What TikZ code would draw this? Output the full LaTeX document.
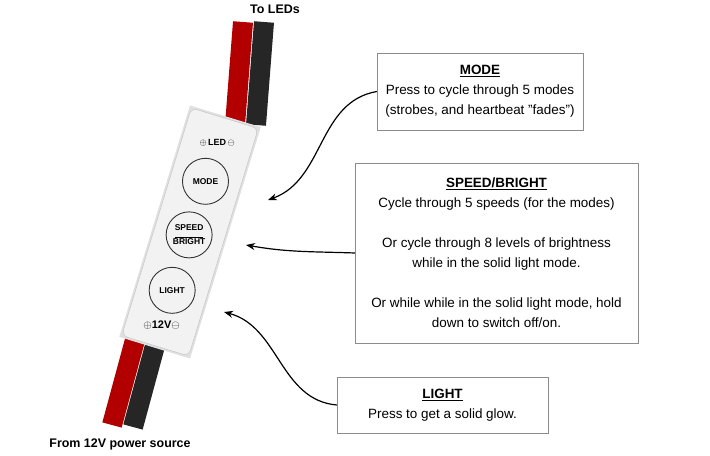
\documentclass[tikz,border=0pt]{standalone}
\usepackage{fontspec}
\setmainfont{Liberation Sans}
\usetikzlibrary{arrows.meta}
\tikzset{
  infobox/.style={draw=black!45, fill=white, align=center, font=\fontsize{13.5}{20}\selectfont, inner sep=4pt},
  pointer/.style={-{Stealth[length=9pt,width=7pt]}, line width=1.2pt},
  button/.style={circle, draw=black!80, line width=0.9pt, minimum size=46bp, font=\bfseries\fontsize{8.5}{9}\selectfont, align=center, inner sep=0pt},
  cable/.style={line width=20bp}
}
\begin{document}
\begin{tikzpicture}[x=1bp,y=-1bp]
\useasboundingbox (0,0) rectangle (710,456);

% cables
\draw[cable, red!70!black] (243,22) -- (235,125);
\draw[cable, black!85] (264,22) -- (256,125);
\draw[cable, red!70!black] (135,340) -- (112,425);
\draw[cable, black!85] (156,342) -- (133,427);

% controller
\begin{scope}[shift={(190,232)}, rotate=-17]
\fill[black!12] (-37,-121) rectangle (37,121);
\draw[black!25, fill=black!5, rounded corners=6bp] (-35,-119) rectangle (35,119);
\node[font=\bfseries\fontsize{9}{10}\selectfont] (led) at (0,-93) {$\oplus$\,LED\,$\ominus$};
\node[button] (mode) at (0,-53) {MODE};
\node[button] (speed) at (0,3) {SPEED\\[-2pt]\rule{28bp}{0.7pt}\\[-2pt]BRIGHT};
\node[button] (light) at (0,61) {LIGHT};
\node[font=\bfseries\fontsize{11}{12}\selectfont] (v12) at (0,97) {$\oplus$12V$\ominus$};
\end{scope}

% labels
\node[font=\bfseries\fontsize{12.5}{14}\selectfont] (leds) at (275,9) {To LEDs};
\node[font=\bfseries\fontsize{12.5}{14}\selectfont] (power) at (120,444) {From 12V power source};

\node[infobox, minimum width=206bp, minimum height=77bp] (modebox) at (480,91.5)
  {\textbf{\underline{MODE}}\\Press to cycle through 5 modes\\(strobes, and heartbeat \symbol{34}fades\symbol{34})};
\node[infobox, minimum width=283bp, minimum height=180bp] (speedbox) at (496.5,253)
  {\textbf{\underline{SPEED/BRIGHT}}\\Cycle through 5 speeds (for the modes)\\[20bp]
   Or cycle through 8 levels of brightness\\while in the solid light mode.\\[20bp]
   Or while while in the solid light mode, hold\\down to switch off/on.};
\node[infobox, minimum width=211bp, minimum height=56bp] (lightbox) at (442.5,405)
  {\textbf{\underline{LIGHT}}\\Press to get a solid glow.};

\coordinate (modetip) at (268,200);
\coordinate (speedtip) at (246,245);
\coordinate (lighttip) at (224,312);
\draw[pointer] (modebox.west) to[out=190, in=20] (modetip);
\draw[pointer] (speedbox.west) to[out=178, in=-10] (speedtip);
\draw[pointer] (lightbox.west) to[out=175, in=-15] (lighttip);
\end{tikzpicture}
\end{document}
